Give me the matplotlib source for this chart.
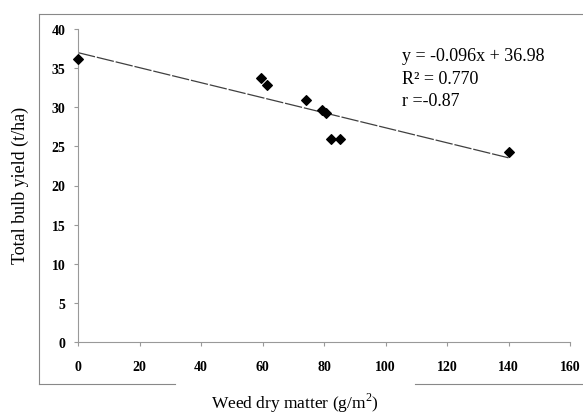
import matplotlib
matplotlib.use("Agg")
import matplotlib.pyplot as plt
from matplotlib.lines import Line2D
import numpy as np

plt.rcParams['font.family'] = ['Liberation Serif', 'DejaVu Serif']
plt.rcParams['mathtext.fontset'] = 'custom'
plt.rcParams['mathtext.rm'] = 'Liberation Serif'

weed_dm = [0, 59.5, 61.5, 74.2, 79.4, 80.5, 82.3, 85.3, 140.0]
bulb_yield = [36.2, 33.8, 32.8, 30.9, 29.6, 29.3, 26.0, 26.0, 24.3]
slope, intercept = -0.096, 36.98
x_ticks = [0, 20, 40, 60, 80, 100, 120, 140, 160]
y_ticks = [0, 5, 10, 15, 20, 25, 30, 35, 40]
eq_lines = ['y = -0.096x + 36.98', 'R² = 0.770', 'r =-0.87']

W, H = 583, 414
fig = plt.figure(figsize=(W/100, H/100), dpi=100)
ax = fig.add_axes([78/W, 1-343/H, (570-78)/W, (343-30)/H])

ax.scatter(weed_dm, bulb_yield, marker='D', s=24, color='black', zorder=3, clip_on=False)
xl = np.array([min(weed_dm), max(weed_dm)])
ax.plot(xl, slope*xl + intercept, color='#404040', lw=0.9, dashes=(14, 1.5))

ax.set_xlim(0, 160)
ax.set_ylim(0, 40)
ax.set_xticks(x_ticks)
ax.set_yticks(y_ticks)
for s in ['top', 'right']:
    ax.spines[s].set_visible(False)
for s in ['left', 'bottom']:
    ax.spines[s].set_color('#999999')
    ax.spines[s].set_linewidth(0.8)
ax.tick_params(direction='out', length=3, width=0.8, color='#999999', labelsize=10)
ax.tick_params(axis='x', pad=10)
ax.tick_params(axis='y', pad=6)
for lbl in ax.get_xticklabels() + ax.get_yticklabels():
    lbl.set_fontweight('bold')

for i, t in enumerate(eq_lines):
    fig.text(402/W, 1-(61 + 22.5*i)/H, t, fontsize=13, va='baseline', ha='left')

fig.text(295/W, 1-403/H, 'Weed dry matter (g/m$^2$)', ha='center', va='center', fontsize=12.5)
fig.text(20/W, 1-185/H, 'Total bulb yield (t/ha)', ha='center', va='center', rotation=90, fontsize=13)

c = '#888888'
fig.add_artist(Line2D([39/W, 1], [1-15/H, 1-15/H], color=c, lw=0.8, transform=fig.transFigure))
fig.add_artist(Line2D([39/W, 39/W], [1-15/H, 1-385/H], color=c, lw=0.8, transform=fig.transFigure))
fig.add_artist(Line2D([39/W, 175/W], [1-385/H, 1-385/H], color=c, lw=0.8, transform=fig.transFigure))
fig.add_artist(Line2D([415/W, 1], [1-385/H, 1-385/H], color=c, lw=0.8, transform=fig.transFigure))

fig.savefig('out.png', dpi=100)
